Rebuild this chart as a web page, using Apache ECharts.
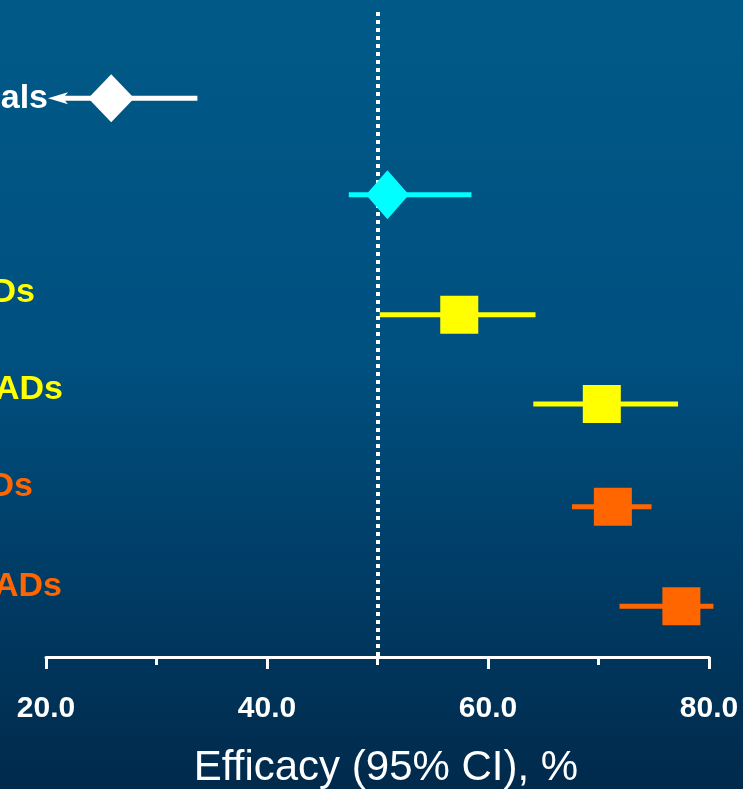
<!DOCTYPE html>
<html>
<head>
<meta charset="utf-8">
<script src="https://cdn.jsdelivr.net/npm/echarts@6/dist/echarts.min.js"></script>
<style>
  html, body { margin: 0; padding: 0; }
  #chart { width: 743px; height: 789px; }
</style>
</head>
<body>
<div id="chart"></div>
<script>
// Forest plot: point estimate and 95% CI of efficacy per subgroup
var rowLabels = ['als', '', 'Ds', 'ADs', 'Ds', 'ADs'];
var estimate = [25.9, 50.9, 57.4, 70.3, 71.3, 77.5];
var ciLow = [null, 47.4, 50.2, 64.1, 67.6, 71.9];   // null: lower bound lies below the axis range
var ciHigh = [33.7, 58.5, 64.3, 77.2, 74.8, 80.4];
var referenceValue = 50;
var tickValues = [20, 40, 60, 80];
var tickLabels = ['20.0', '40.0', '60.0', '80.0'];
var axisTitle = 'Efficacy (95% CI), %';

// layout and styling
var rowPos = [1, 1.95, 3.13, 4.01, 5.02, 6.0];
var rowColor = ['#ffffff', '#00ffff', '#ffff00', '#ffff00', '#ff6600', '#ff6600'];
var rowSymbol = ['diamond', 'diamond', 'rect', 'rect', 'rect', 'rect'];
var rowSymbolSize = [[46, 48], [43, 49], [38, 38], [38, 38], [38, 38], [38, 38]];
var labelPlace = [[48, 99], null, [35, 293], [63, 390], [33, 487], [62, 587]];

var FONT = '"Liberation Sans", Arial, Helvetica, sans-serif';
var X_MIN = 20, X_MAX = 80;

var chart = echarts.init(document.getElementById('chart'));

var ciData = estimate.map(function (v, i) {
  return [ciLow[i] == null ? X_MIN : ciLow[i], ciHigh[i], rowPos[i], i, ciLow[i] == null ? 1 : 0];
});

var pointData = estimate.map(function (v, i) {
  return {
    value: [v, rowPos[i]],
    symbol: rowSymbol[i],
    symbolSize: rowSymbolSize[i],
    itemStyle: { color: rowColor[i], opacity: 1 }
  };
});

var labelGraphics = [];
rowLabels.forEach(function (t, i) {
  if (!t || !labelPlace[i]) return;
  labelGraphics.push({
    type: 'text',
    x: labelPlace[i][0],
    y: labelPlace[i][1],
    silent: true,
    z: 10,
    style: {
      text: t,
      fill: rowColor[i],
      font: 'bold 34px ' + FONT,
      textAlign: 'right',
      textVerticalAlign: 'middle'
    }
  });
});
labelGraphics.push({
  type: 'text',
  x: 386,
  y: 768,
  silent: true,
  style: {
    text: axisTitle,
    fill: '#ffffff',
    font: '42px ' + FONT,
    textAlign: 'center',
    textVerticalAlign: 'middle'
  }
});

chart.setOption({
  animation: false,
  backgroundColor: {
    type: 'linear', x: 0, y: 0, x2: 0, y2: 1,
    colorStops: [
      { offset: 0, color: '#005a87' },
      { offset: 0.45, color: '#005080' },
      { offset: 1, color: '#002a4c' }
    ]
  },
  grid: { left: 46, right: 34, top: 12, bottom: 132 },
  xAxis: {
    type: 'value',
    min: X_MIN,
    max: X_MAX,
    interval: 20,
    splitLine: { show: false },
    axisLine: { show: true, lineStyle: { color: '#ffffff', width: 3 } },
    axisTick: { show: true, length: 12, lineStyle: { color: '#ffffff', width: 3 } },
    minorTick: { show: true, splitNumber: 2, length: 8, lineStyle: { color: '#ffffff', width: 3 } },
    minorSplitLine: { show: false },
    axisLabel: {
      margin: 37,
      color: '#ffffff',
      fontFamily: FONT,
      fontWeight: 'bold',
      fontSize: 30,
      formatter: function (v) {
        var k = tickValues.indexOf(v);
        return k >= 0 ? tickLabels[k] : '';
      }
    }
  },
  yAxis: {
    type: 'value',
    inverse: true,
    min: 0.15,
    max: 6.5,
    show: false
  },
  graphic: labelGraphics,
  series: [
    {
      // dotted reference line at the null-effect value
      type: 'scatter',
      name: 'reference',
      z: 1,
      data: [],
      markLine: {
        silent: true,
        symbol: ['none', 'none'],
        label: { show: false },
        lineStyle: { color: '#ffffff', width: 4, type: [4, 4], cap: 'butt', opacity: 1 },
        data: [{ xAxis: referenceValue }]
      }
    },
    {
      type: 'custom',
      name: 'ci',
      clip: false,
      z: 2,
      data: ciData,
      renderItem: function (params, api) {
        var y = api.value(2);
        var idx = api.value(3);
        var arrow = api.value(4);
        var p0 = api.coord([api.value(0), y]);
        var p1 = api.coord([api.value(1), y]);
        var color = rowColor[idx];
        var children = [];
        var startX = arrow ? p0[0] + 2 : p0[0];
        children.push({
          type: 'line',
          shape: { x1: startX + (arrow ? 12 : 0), y1: p0[1], x2: p1[0], y2: p1[1] },
          style: { stroke: color, lineWidth: 5 }
        });
        if (arrow) {
          children.push({
            type: 'polygon',
            shape: { points: [[startX, p0[1]], [startX + 20, p0[1] - 6], [startX + 15, p0[1]], [startX + 20, p0[1] + 6]] },
            style: { fill: color }
          });
        }
        return { type: 'group', children: children };
      }
    },
    {
      type: 'scatter',
      name: 'estimate',
      z: 5,
      data: pointData
    }
  ]
});
</script>
</body>
</html>
